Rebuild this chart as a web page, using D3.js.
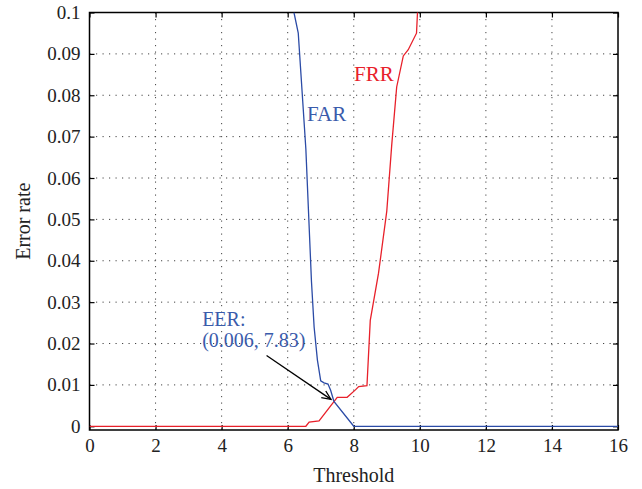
<!DOCTYPE html>
<html>
<head>
<meta charset="utf-8">
<script src="https://cdn.jsdelivr.net/npm/d3@7"></script>
<style>
  body { margin: 0; background: #fff; }
</style>
</head>
<body>
<div id="chart"></div>
<script>
// data
var farThreshold = [6.19, 6.32, 6.55, 6.72, 6.80, 6.90, 7.00, 7.10, 7.22, 7.30, 7.40, 8.00, 16];
var farValue     = [0.1, 0.095, 0.067, 0.035, 0.024, 0.016, 0.011, 0.0105, 0.0102, 0.0087, 0.006, 0, 0];

var frrThreshold = [0, 6.55, 6.65, 6.95, 7.50, 7.80, 8.05, 8.15, 8.40, 8.50, 8.75, 9.00, 9.15, 9.30, 9.50, 9.65, 9.90, 9.93, 9.93];
var frrValue     = [0, 0, 0.001, 0.0013, 0.007, 0.007, 0.0088, 0.0096, 0.0098, 0.0256, 0.037, 0.052, 0.068, 0.082, 0.0895, 0.091, 0.095, 0.1, 0.11];

var xTicks = [0, 2, 4, 6, 8, 10, 12, 14, 16];
var xTickLabels = ["0", "2", "4", "6", "8", "10", "12", "14", "16"];
var yTicks = [0, 0.01, 0.02, 0.03, 0.04, 0.05, 0.06, 0.07, 0.08, 0.09, 0.1];
var yTickLabels = ["0", "0.01", "0.02", "0.03", "0.04", "0.05", "0.06", "0.07", "0.08", "0.09", "0.1"];

// EER annotation: arrow from text to crossing point
var eerArrowFrom = [5.36, 0.0171];
var eerArrowTo = [7.31, 0.0065];

var blue = "#2b4ba6", red = "#e8202a";
var serif = "'Liberation Serif'";

// set the dimensions and margins of the graph
var margin = {top: 12.5, right: 24, bottom: 59, left: 89.5},
    width = 642 - margin.left - margin.right,
    height = 489 - margin.top - margin.bottom;

var svg = d3.select("#chart").append("svg")
    .attr("width", 642)
    .attr("height", 489);

var defs = svg.append("defs");
defs.append("clipPath").attr("id", "plotclip")
    .append("rect").attr("width", width).attr("height", height);
defs.append("marker")
    .attr("id", "arrow")
    .attr("markerUnits", "userSpaceOnUse")
    .attr("viewBox", "-10 -6 12 12")
    .attr("refX", 0).attr("refY", 0)
    .attr("markerWidth", 12).attr("markerHeight", 12)
    .attr("orient", "auto")
    .append("path")
    .attr("d", "M-9,-4 L0,0 L-9,4")
    .attr("fill", "none")
    .attr("stroke", "#000")
    .attr("stroke-width", 1.3);

var g = svg.append("g")
    .attr("transform", "translate(" + margin.left + "," + margin.top + ")");

// scales
var x = d3.scaleLinear().domain([0, 16]).range([0, width]);
var y = d3.scaleLinear().domain([-0.0009, 0.1]).range([height, 0]);

// dotted grid
g.selectAll(".vgrid")
    .data(xTicks.slice(1, -1))
    .enter().append("line")
    .attr("x1", function(d) { return x(d); })
    .attr("x2", function(d) { return x(d); })
    .attr("y1", 0).attr("y2", height)
    .attr("stroke", "#444").attr("stroke-width", 1)
    .attr("stroke-dasharray", "1.2,5.3");

g.selectAll(".hgrid")
    .data(yTicks.slice(1, -1))
    .enter().append("line")
    .attr("x1", 0).attr("x2", width)
    .attr("y1", function(d) { return y(d); })
    .attr("y2", function(d) { return y(d); })
    .attr("stroke", "#444").attr("stroke-width", 1)
    .attr("stroke-dasharray", "1.2,5.3");

// axes with inward ticks on all sides
function styleAxis(sel) {
    sel.attr("font-family", null).attr("font-size", null);
    sel.select(".domain").remove();
    sel.selectAll(".tick line").attr("stroke", "#000").attr("stroke-width", 1.2);
    sel.selectAll(".tick text")
        .style("font-family", serif)
        .style("font-size", "19px")
        .attr("fill", "#222");
}

g.append("g")
    .attr("transform", "translate(0," + height + ")")
    .call(d3.axisBottom(x).tickValues(xTicks)
        .tickFormat(function(d, i) { return xTickLabels[i]; })
        .tickSizeInner(-5).tickSizeOuter(0).tickPadding(9))
    .call(styleAxis);

g.append("g")
    .call(d3.axisLeft(y).tickValues(yTicks)
        .tickFormat(function(d, i) { return yTickLabels[i]; })
        .tickSizeInner(-5).tickSizeOuter(0).tickPadding(9))
    .call(styleAxis);

g.append("g")
    .call(d3.axisTop(x).tickValues(xTicks).tickFormat("")
        .tickSizeInner(-5).tickSizeOuter(0))
    .call(styleAxis);

g.append("g")
    .attr("transform", "translate(" + width + ",0)")
    .call(d3.axisRight(y).tickValues(yTicks).tickFormat("")
        .tickSizeInner(-5).tickSizeOuter(0))
    .call(styleAxis);

// the box
g.append("rect")
    .attr("width", width).attr("height", height)
    .attr("fill", "none").attr("stroke", "#000").attr("stroke-width", 1.5);

// curves
var line = d3.line()
    .x(function(d) { return x(d[0]); })
    .y(function(d) { return y(d[1]); });

var curves = g.append("g").attr("clip-path", "url(#plotclip)");

curves.append("path")
    .datum(d3.zip(frrThreshold, frrValue))
    .attr("d", line)
    .attr("fill", "none").attr("stroke", red).attr("stroke-width", 1.3);

curves.append("path")
    .datum(d3.zip(farThreshold, farValue))
    .attr("d", line)
    .attr("fill", "none").attr("stroke", blue).attr("stroke-width", 1.3);

// labels on the curves
g.append("text")
    .attr("x", x(6.585)).attr("y", y(0.0738))
    .style("font-family", serif).style("font-size", "21px").style("fill", "#3a5bab")
    .text("FAR");

g.append("text")
    .attr("x", x(8.01)).attr("y", y(0.0834))
    .style("font-family", serif).style("font-size", "21px").style("fill", red)
    .text("FRR");

var eer = g.append("text")
    .style("font-family", serif).style("font-size", "20px").style("fill", "#3a5bab");
eer.append("tspan").attr("x", x(3.41)).attr("y", y(0.0242)).text("EER:");
eer.append("tspan").attr("x", x(3.41)).attr("y", y(0.0191)).text("(0.006, 7.83)");

g.append("line")
    .attr("x1", x(eerArrowFrom[0])).attr("y1", y(eerArrowFrom[1]))
    .attr("x2", x(eerArrowTo[0])).attr("y2", y(eerArrowTo[1]))
    .attr("stroke", "#000").attr("stroke-width", 1.3)
    .attr("marker-end", "url(#arrow)");

// text label for the x axis
g.append("text")
    .attr("transform", "translate(" + (width / 2) + "," + (height + 52) + ")")
    .style("text-anchor", "middle")
    .style("font-family", serif)
    .style("font-size", "20px")
    .style("fill", "#222")
    .text("Threshold");

// text label for the y axis
g.append("text")
    .attr("transform", "rotate(-90)")
    .attr("x", 0 - (height / 2))
    .attr("y", 29.5 - margin.left)
    .style("text-anchor", "middle")
    .style("font-family", serif)
    .style("font-size", "20px")
    .style("fill", "#222")
    .text("Error rate");
</script>
</body>
</html>
